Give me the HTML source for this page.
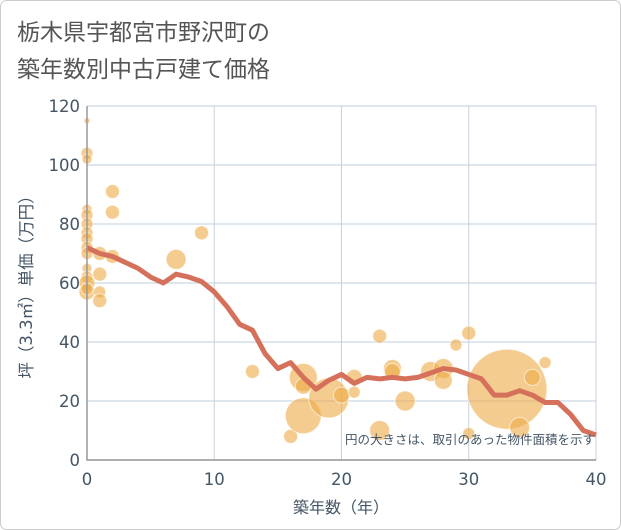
<!DOCTYPE html>
<html><head><meta charset="utf-8"><style>
body{margin:0;background:#fff;}
svg{display:block;font-family:"Liberation Sans","Noto Sans CJK JP",sans-serif;}
.dv{font-family:"DejaVu Sans","Noto Sans CJK JP",sans-serif;}
</style></head><body>
<svg id="chart" width="621" height="530">
<rect x="0.5" y="0.5" width="620" height="529" rx="6" fill="#fff" stroke="#ccc"/>
<text x="17" y="40" font-size="23" fill="#555">栃木県宇都宮市野沢町の</text>
<text x="17" y="77" font-size="23" fill="#555">築年数別中古戸建て価格</text>
<g id="grid"></g>
<g id="bubbles"></g>
<g id="line"></g>
<g id="axes"></g>
<text class="dv" x="595" y="444" font-size="12.5" fill="#445566" text-anchor="end">円の大きさは、取引のあった物件面積を示す</text>
<text class="dv" x="341" y="513" font-size="16" fill="#445566" text-anchor="middle">築年数（年）</text>
<text class="dv" transform="translate(32,283) rotate(-90)" font-size="16.5" fill="#445566" text-anchor="middle">坪（3.3㎡）単価（万円）</text>
</svg>
<script>
const xTicks=[0,10,20,30,40];
const yTicks=[0,20,40,60,80,100,120];
const lineYears=[0,1,2,3,4,5,6,7,8,9,10,11,12,13,14,15,16,17,18,19,20,21,22,23,24,25,26,27,28,29,30,31,32,33,34,35,36,37,38,39,40];
const lineValues=[72,70,69,67,65,62,60,63,62,60.5,57,52,46,44,36,31,33,28,24,27,29,26,28,27.5,28,27.5,28,29.5,31,30.5,29,27.5,22,22,23.5,22,19.5,19.5,15.5,10,8.5];
const bubbleX=[0,0,0,0,0,0,0,0,0,0,0,0,0,0,0,1,1,1,1,2,2,2,7,9,13,16,17,17,17,19,20,21,21,23,23,24,24,25,27,28,28,29,30,30,33,34,35,36];
const bubbleY=[115,104,102,85,83,80,77,75,72,70,65,62,60,57,58,70,63,57,54,91,84,69,68,77,30,8,15,28,25,21,22,28,23,42,10,31,30,20,30,31,27,39,43,9,24,11,28,33];
const bubbleR=[3,6,5,5,6,6,6,6,6,6,5,6,8,8,6,7,7,6,7,7,7,7,10,7,7,7,18,14,8,20,8,8,6,7,10,9,8,10,10,10,9,6,7,6,40,10,8,6];
const X0=87,X1=596,Y0=460,Y1=106;
const sx=v=>X0+(v-0)/(40-0)*(X1-X0);
const sy=v=>Y0-(v-0)/(120-0)*(Y0-Y1);
const NS='http://www.w3.org/2000/svg';
function mk(tag,parent){const e=document.createElementNS(NS,tag);document.getElementById(parent).appendChild(e);return e;}
yTicks.forEach(t=>{
  const l=mk('line','grid');l.setAttribute('x1',X0);l.setAttribute('x2',X1);l.setAttribute('y1',sy(t));l.setAttribute('y2',sy(t));l.setAttribute('stroke','#d3dde8');l.setAttribute('stroke-width','1.5');
  
  
  const tx=mk('text','axes');tx.setAttribute('class','dv');tx.setAttribute('x',X0-7);tx.setAttribute('y',sy(t)+6);tx.setAttribute('text-anchor','end');tx.setAttribute('font-size','16.5');tx.setAttribute('fill','#445566');tx.textContent=t;
  
  
});
xTicks.forEach(t=>{
  const l=mk('line','grid');l.setAttribute('x1',sx(t));l.setAttribute('x2',sx(t));l.setAttribute('y1',Y1);l.setAttribute('y2',Y0);l.setAttribute('stroke','#c8d2dc');l.setAttribute('stroke-width','1');
  
  
  const tx=mk('text','axes');tx.setAttribute('class','dv');tx.setAttribute('x',sx(t));tx.setAttribute('y',Y0+25);tx.setAttribute('text-anchor','middle');tx.setAttribute('font-size','16.5');tx.setAttribute('fill','#445566');tx.textContent=t;
  
  
});
const ax=mk('path','axes');ax.setAttribute('d',`M${X0},${Y1}V${Y0}H${X1}`);ax.setAttribute('fill','none');ax.setAttribute('stroke','#999');ax.setAttribute('stroke-width','1.5');


bubbleX.forEach((x,i)=>{
  const c=mk('circle','bubbles');c.setAttribute('cx',sx(x));c.setAttribute('cy',sy(bubbleY[i]));c.setAttribute('r',bubbleR[i]);c.setAttribute('fill','rgba(238,170,70,0.6)');c.setAttribute('stroke','rgba(255,255,255,0.6)');c.setAttribute('stroke-width','1');
  
  
});
const p=mk('polyline','line');p.setAttribute('points',lineYears.map((y,i)=>sx(y)+','+sy(lineValues[i])).join(' '));p.setAttribute('fill','none');p.setAttribute('stroke','#d5705a');p.setAttribute('stroke-width','5');p.setAttribute('stroke-linejoin','round');


</script>
</body></html>
